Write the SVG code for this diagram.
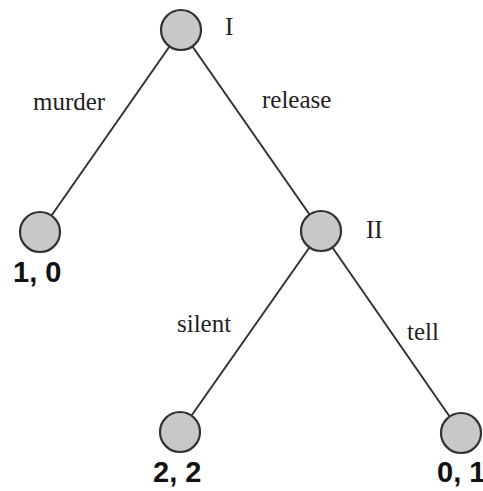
<svg xmlns="http://www.w3.org/2000/svg" width="483" height="491" viewBox="0 0 483 491">
<style>
.edge{stroke:#333;stroke-width:2;fill:none}
.node{fill:#c8c8c8;stroke:#333;stroke-width:2.2}
.lbl{font-family:"Liberation Serif",serif;font-size:25px;fill:#222}
.pay{font-family:"Liberation Sans",Arial,sans-serif;font-size:29px;font-weight:bold;fill:#111}
</style>
<rect width="483" height="491" fill="#fff"/>
<g id="edges">
<line class="edge" x1="181" y1="30" x2="40" y2="232"/>
<line class="edge" x1="181" y1="30" x2="321" y2="231"/>
<line class="edge" x1="321" y1="231" x2="180" y2="432"/>
<line class="edge" x1="321" y1="231" x2="461" y2="433"/>
<text class="lbl" x="33" y="110">murder</text>
<text class="lbl" x="262" y="108">release</text>
<text class="lbl" x="177" y="332">silent</text>
<text class="lbl" x="407" y="340">tell</text>
</g>
<g id="nodeI"><circle class="node" cx="181" cy="30" r="20"/><text class="lbl" x="225" y="35">I</text></g>
<g id="leaf10"><circle class="node" cx="40" cy="232" r="20"/><text class="pay" x="13" y="282">1, 0</text></g>
<g id="nodeII"><circle class="node" cx="321" cy="231" r="20"/><text class="lbl" x="366" y="238">II</text></g>
<g id="leaf22"><circle class="node" cx="180" cy="432" r="20"/><text class="pay" x="153" y="482">2, 2</text></g>
<g id="leaf01"><circle class="node" cx="461" cy="433" r="20"/><text class="pay" x="437" y="482">0, 1</text></g>
</svg>
